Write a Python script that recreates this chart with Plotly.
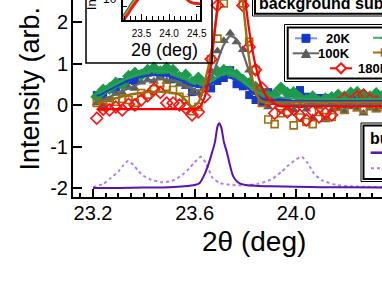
import plotly.graph_objects as go

# ---------------- data ----------------
two_theta = [23.215, 23.240, 23.265, 23.290, 23.315, 23.340, 23.365, 23.390, 23.415, 23.440,
             23.465, 23.490, 23.515, 23.540, 23.565, 23.590, 23.615, 23.640, 23.665, 23.690,
             23.715, 23.740, 23.765, 23.790, 23.815, 23.840, 23.865, 23.890, 23.915, 23.940,
             23.965, 23.990, 24.015, 24.040, 24.065, 24.090, 24.115, 24.140, 24.165, 24.190,
             24.215, 24.240, 24.265, 24.290, 24.315, 24.340]

int_20K = [0.24, 0.20, 0.38, 0.42, 0.55, 0.60, 0.58, 0.74, 0.78, 0.84,
           0.70, 0.80, 0.62, 0.68, 0.52, 0.31, 0.55, 0.45, 0.40, 0.58,
           0.65, 0.84, 0.50, 0.45, 0.24, 0.12, 0.07, 0.31, 0.15, 0.10,
           0.05, 0.29, 0.36, 0.20, 0.12, 0.17, 0.17, 0.05, 0.10, 0.02,
           0.08, 0.12, 0.04, 0.10, 0.06, 0.09]
fit_20K = [0.22, 0.29, 0.37, 0.45, 0.52, 0.59, 0.64, 0.68, 0.71, 0.72,
           0.72, 0.70, 0.66, 0.61, 0.54, 0.47, 0.43, 0.44, 0.51, 0.60,
           0.66, 0.66, 0.59, 0.48, 0.37, 0.25, 0.16, 0.12, 0.11, 0.10,
           0.10, 0.10, 0.10, 0.10, 0.10, 0.10, 0.10, 0.10, 0.10, 0.10,
           0.10, 0.10, 0.10, 0.10, 0.10, 0.10]

int_60K = [0.20, 0.36, 0.40, 0.53, 0.50, 0.69, 0.77, 0.72, 0.84, 0.89,
           0.80, 0.89, 0.84, 0.67, 0.72, 0.55, 0.65, 0.50, 0.62, 0.80,
           0.84, 0.80, 0.72, 0.60, 0.52, 0.43, 0.30, 0.22, 0.25, 0.41,
           0.29, 0.30, 0.17, 0.12, 0.20, 0.08, 0.15, 0.18, 0.24, 0.20,
           0.29, 0.31, 0.24, 0.20, 0.28, 0.22]
fit_60K = [0.27, 0.34, 0.42, 0.50, 0.58, 0.65, 0.71, 0.76, 0.80, 0.82,
           0.82, 0.80, 0.76, 0.71, 0.64, 0.57, 0.52, 0.52, 0.58, 0.67,
           0.75, 0.78, 0.72, 0.58, 0.44, 0.34, 0.27, 0.23, 0.20, 0.18,
           0.17, 0.16, 0.16, 0.15, 0.15, 0.15, 0.15, 0.15, 0.15, 0.15,
           0.15, 0.15, 0.15, 0.15, 0.15, 0.15]

int_100K = [0.05, -0.05, 0.12, 0.28, 0.30, 0.42, 0.40, 0.55, 0.60, 0.57,
            0.66, 0.58, 0.62, 0.50, 0.44, 0.30, 0.28, 0.45, 0.82, 1.30,
            1.55, 1.73, 1.52, 1.33, 0.84, 0.30, 0.10, -0.05, 0.05, 0.00,
            -0.08, -0.12, -0.02, -0.10, -0.31, -0.05, -0.36, -0.12, -0.07, -0.15,
            -0.05, -0.10, -0.20, -0.08, -0.12, -0.05]
fit_100K = [0.08, 0.13, 0.19, 0.26, 0.33, 0.40, 0.47, 0.53, 0.58, 0.61,
            0.62, 0.61, 0.58, 0.53, 0.46, 0.39, 0.35, 0.40, 0.65, 1.05,
            1.45, 1.66, 1.58, 1.25, 0.80, 0.40, 0.17, 0.07, 0.03, 0.02,
            0.01, 0.00, 0.00, 0.00, 0.00, 0.00, 0.00, 0.00, 0.00, 0.00,
            0.00, 0.00, 0.00, 0.00, 0.00, 0.00]

int_140K = [0.05, -0.05, 0.10, 0.08, 0.15, 0.12, 0.05, 0.29, 0.25, 0.38,
            0.53, 0.44, 0.36, 0.20, 0.12, -0.15, -0.05, 0.45, 1.10, 1.60,
            2.45, 4.00, 3.50, 2.45, 1.52, 0.84, 0.05, -0.35, -0.46, -0.20,
            -0.17, -0.49, -0.30, -0.41, -0.46, -0.17, -0.29, -0.29, -0.05, -0.12,
            0.05, -0.05, -0.10, 0.00, -0.08, -0.05]
fit_140K = [0.04, 0.08, 0.12, 0.16, 0.20, 0.24, 0.27, 0.29, 0.31, 0.32,
            0.32, 0.31, 0.29, 0.25, 0.12, -0.04, 0.06, 0.55, 1.25, 2.30,
            3.50, 4.20, 3.80, 2.50, 1.10, 0.30, 0.08, 0.06, 0.06, 0.06,
            0.06, 0.06, 0.06, 0.06, 0.06, 0.06, 0.06, 0.06, 0.06, 0.06,
            0.06, 0.06, 0.06, 0.06, 0.06, 0.06]

int_180K = [-0.32, -0.10, -0.12, -0.05, -0.12, 0.02, 0.00, 0.12, 0.22, 0.38,
            0.30, 0.05, 0.05, 0.00, -0.07, -0.24, -0.17, 0.20, 1.10, 2.40,
            4.00, 4.60, 4.00, 2.40, 1.40, 0.85, 0.41, 0.10, -0.20, -0.05,
            -0.17, -0.10, -0.25, -0.36, -0.15, -0.29, -0.20, -0.24, 0.05, 0.15,
            0.07, 0.20, 0.24, 0.12, 0.08, 0.05]
fit_180K = [-0.10, -0.10, -0.10, -0.10, -0.10, -0.10, -0.10, -0.10, -0.10, -0.10,
            -0.10, -0.10, -0.10, -0.10, -0.10, -0.10, -0.08, 0.20, 1.00, 2.40,
            3.80, 4.60, 4.30, 3.00, 1.80, 0.95, 0.42, 0.15, 0.03, -0.03,
            -0.03, -0.03, -0.03, -0.03, -0.03, -0.03, -0.03, -0.03, -0.03, -0.03,
            -0.03, -0.03, -0.03, -0.03, -0.03, -0.03]

bulk_x = [23.20, 23.30, 23.40, 23.50, 23.56, 23.60, 23.62, 23.64, 23.655, 23.668,
          23.68, 23.69, 23.697, 23.705, 23.715, 23.728, 23.74, 23.752, 23.77, 23.80,
          23.85, 23.90, 24.00, 24.10, 24.20, 24.34]
bulk_y = [-2.00, -2.00, -1.99, -1.98, -1.96, -1.93, -1.88, -1.66, -1.42, -1.16,
          -0.90, -0.52, -0.44, -0.54, -0.88, -1.16, -1.47, -1.72, -1.86, -1.93,
          -1.95, -1.96, -1.97, -1.98, -1.98, -1.99]

ref_x = [23.20, 23.24, 23.27, 23.30, 23.32, 23.338, 23.36, 23.38, 23.40, 23.43,
         23.47, 23.51, 23.55, 23.58, 23.60, 23.624, 23.645, 23.67, 23.70, 23.75,
         23.80, 23.85, 23.90, 23.94, 23.97, 24.00, 24.022, 24.045, 24.07, 24.10,
         24.16, 24.22, 24.34]
ref_y = [-1.98, -1.90, -1.76, -1.60, -1.45, -1.35, -1.45, -1.60, -1.71, -1.80,
         -1.86, -1.83, -1.69, -1.52, -1.38, -1.25, -1.40, -1.75, -1.88, -1.93,
         -1.93, -1.90, -1.80, -1.62, -1.45, -1.31, -1.25, -1.40, -1.65, -1.81,
         -1.93, -1.96, -1.98]

inset_x = [23.17, 23.22, 23.27, 23.32, 23.37, 23.42, 23.60, 23.75, 24.00, 24.25,
           24.32, 24.38, 24.44, 24.50, 24.56]
inset_20K = [1500, 2300, 3900, 6800, 12000, 22000, 60000, 200000, 90000, 40000, 30000, 25000, 22000, 20000, 19000]
inset_60K = [1300, 2000, 3400, 5900, 10500, 19000, 55000, 180000, 80000, 35000, 26000, 21000, 18000, 16500, 15500]
inset_100K = [1150, 1750, 2950, 5100, 9100, 16500, 50000, 170000, 70000, 30000, 20000, 16000, 14000, 13000, 12500]
inset_140K = [1000, 1500, 2550, 4400, 7900, 14300, 45000, 160000, 60000, 18000, 10500, 7800, 6900, 6500, 6300]
inset_180K = [870, 1300, 2200, 3800, 6800, 12400, 40000, 150000, 50000, 20000, 11000, 8000, 7000, 6600, 6400]

main_ticks = [-2, -1, 0, 1, 2]
main_ticktext = ["-2", "-1", "0", "1", "2"]
inset_ticks = [23.5, 24.0, 24.5]
inset_ticktext = ["23.5", "24.0", "24.5"]

# ---------------- layout helpers ----------------
W, H = 382, 293
ML, MR, MT, MB = 73, 0, 0, 96
PW = W - ML - MR
PH = H - MT - MB
FONT = "Liberation Sans, Arial, sans-serif"


def fx(p):
    return (p - ML) / PW


def fy(p):
    return (PH + MT - p) / PH


C20, C60, C100, C140, C180 = "#1538c8", "#1f9a4c", "#5c5c5c", "#a0700c", "#ff1010"

fig = go.Figure()

# markers
fig.add_trace(go.Scatter(x=two_theta, y=int_20K, mode="markers",
                         marker=dict(symbol="square", size=8, color=C20)))
fig.add_trace(go.Scatter(x=two_theta, y=int_100K, mode="markers",
                         marker=dict(symbol="triangle-up", size=9, color=C100)))
fig.add_trace(go.Scatter(x=two_theta, y=int_60K, mode="markers",
                         marker=dict(symbol="diamond", size=10, color=C60)))
fig.add_trace(go.Scatter(x=two_theta, y=int_140K, mode="markers",
                         marker=dict(symbol="square-open", size=7, color=C140, line=dict(width=1.6))))
fig.add_trace(go.Scatter(x=two_theta, y=int_180K, mode="markers",
                         marker=dict(symbol="diamond-open", size=9, color=C180, line=dict(width=1.6))))
# fits
for fy_, col, w in [(fit_100K, "#666666", 2.2), (fit_20K, "#1a3ccc", 2.2), (fit_60K, "#27a05c", 2.2),
                    (fit_140K, "#9c6c10", 2.4), (fit_180K, "#ff0000", 2.2)]:
    fig.add_trace(go.Scatter(x=two_theta, y=fy_, mode="lines",
                             line=dict(color=col, width=w, shape="spline", smoothing=0.8)))
# bulk curves
fig.add_trace(go.Scatter(x=ref_x, y=ref_y, mode="lines",
                         line=dict(color="#b07ee8", width=2, dash="dot", shape="spline", smoothing=0.6)))
fig.add_trace(go.Scatter(x=bulk_x, y=bulk_y, mode="lines",
                         line=dict(color="#5a12b0", width=2, shape="spline", smoothing=0.6)))

# inset
for arr, col in [(inset_20K, "#2050d0"), (inset_60K, "#22aa44"), (inset_100K, "#e8a020"),
                 (inset_140K, "#b07010"), (inset_180K, "#ff1010")]:
    fig.add_trace(go.Scatter(x=inset_x, y=arr, mode="lines", xaxis="x2", yaxis="y2",
                             line=dict(color=col, width=2.5)))

fig.update_layout(
    width=W, height=H,
    margin=dict(l=ML, r=MR, t=MT, b=MB, pad=0, autoexpand=False),
    paper_bgcolor="white", plot_bgcolor="white",
    showlegend=False,
    font=dict(family=FONT, color="black"),
    xaxis=dict(range=[23.2 - 20 / 254, 23.2 + 289 / 254], showline=True, linecolor="black", linewidth=2,
               automargin=False,
               ticks="inside", ticklen=8, tickwidth=2, tickcolor="black",
               tickmode="linear", tick0=23.2, dtick=0.4, tickformat=".1f",
               tickfont=dict(size=20, family=FONT), ticklabelstandoff=-3,
               minor=dict(ticks="inside", ticklen=4, tickwidth=1.5, tickcolor="black", dtick=0.05, tick0=23.2),
               showgrid=False, zeroline=False),
    yaxis=dict(range=[(105 - 197) / 41.5, 105 / 41.5], showline=True, linecolor="black", linewidth=2,
               automargin=False,
               ticks="inside", ticklen=9, tickwidth=2, tickcolor="black",
               tickmode="array", tickvals=main_ticks, ticktext=main_ticktext,
               tickfont=dict(size=20, family=FONT), ticklabelstandoff=-1,
               showgrid=False, zeroline=False),
    xaxis2=dict(domain=[fx(123), fx(200)], anchor="y2", range=[23.166, 24.559],
                automargin=False,
                showline=True, linecolor="black", linewidth=1.5,
                ticks="inside", ticklen=6, tickwidth=1, tickcolor="black",
                tickmode="array", tickvals=inset_ticks, ticktext=inset_ticktext,
                tickfont=dict(size=10, family=FONT), ticklabelstandoff=3,
                minor=dict(ticks="inside", ticklen=4, tickwidth=1, tickcolor="black", dtick=0.1, tick0=23.5),
                showgrid=False, zeroline=False),
    yaxis2=dict(domain=[fy(20), 1.0], anchor="x2", type="log", range=[3, 4],
                automargin=False,
                showline=True, linecolor="black", linewidth=1.5, mirror="ticks",
                ticks="inside", ticklen=4, tickwidth=1, tickcolor="black",
                tickvals=[5000], showticklabels=False, showgrid=False, zeroline=False),
)

shapes = []


def rect(x0, y0, x1, y1, w, fill=None):
    shapes.append(dict(type="rect", xref="paper", yref="paper",
                       x0=fx(x0), x1=fx(x1), y0=fy(y1), y1=fy(y0),
                       line=dict(color="black", width=w),
                       fillcolor=fill if fill else "rgba(0,0,0,0)", layer="above"))


def hline(x0, x1, yp, col, w=2, dash=None):
    ln = dict(color=col, width=w)
    if dash:
        ln["dash"] = dash
    shapes.append(dict(type="line", xref="paper", yref="paper",
                       x0=fx(x0), x1=fx(x1), y0=fy(yp), y1=fy(yp), line=ln, layer="above"))


def poly(pts, col, fill, w=1.5):
    path = "M " + " L ".join(f"{fx(a):.5f},{fy(b):.5f}" for a, b in pts) + " Z"
    shapes.append(dict(type="path", xref="paper", yref="paper", path=path,
                       line=dict(color=col, width=w), fillcolor=fill, layer="above"))


# inset frame
rect(86, -10, 212, 63, 1.5)
# "background subtracted" box
rect(252.5, -10, 400, 16, 1, "white")
rect(255, -10, 400, 13.8, 2)
# temperature legend box
rect(284.5, 24.5, 400, 81.5, 1, "white")
rect(287.7, 27.5, 400, 78.5, 2)
# bulk legend box
rect(361, 123, 400, 181.5, 1, "white")
rect(363.5, 125.5, 400, 179, 2)

# legend keys
hline(295, 317, 38.3, "#7b96e4")
poly([(302, 34.3), (310, 34.3), (310, 42.3), (302, 42.3)], C20, C20, 1)
hline(292.7, 319.3, 53.3, "#666666")
poly([(301.5, 57.5), (310.5, 57.5), (306, 49.2)], C100, C100, 1)
hline(330, 352, 68.3, "#ff0000")
poly([(341, 63.3), (346, 68.3), (341, 73.3), (336, 68.3)], C180, "white", 2)
hline(373, 390, 37.8, "#3db07a")
poly([(386, 33), (391, 37.8), (386, 42.6), (381, 37.8)], C60, C60, 1)
hline(373, 390, 52.5, "#a0700c")
poly([(381.5, 49), (388.5, 49), (388.5, 56), (381.5, 56)], C140, "white", 1.6)
hline(370.7, 395, 152.7, "#5a12b0", 2.5)
hline(371, 395, 168.3, "#b07ee8", 2, "dot")

fig.update_layout(shapes=shapes)

ann = []


def text(t, xp, yp, size, xa="center", ya="middle", bold=False, angle=0):
    ann.append(dict(text=f"<b>{t}</b>" if bold else t, x=fx(xp), y=fy(yp), xref="paper", yref="paper",
                    xanchor=xa, yanchor=ya, showarrow=False, textangle=angle,
                    font=dict(size=size, family=FONT, color="black")))


text("Intensity (arb. units)", 29, 173, 27, "center", "bottom", angle=-90)
text("2θ (deg)", 254, 241, 28)
text("background subtracted", 257, 4, 16, "left", "middle", bold=True)
text("20K", 352, 38.3, 13, "right", bold=True)
text("100K", 352, 53.3, 13, "right", bold=True)
text("180K", 356, 68.3, 13, "left", bold=True)
text("bulk calc.", 368, 138, 16, "left", bold=True)
# inset texts
text("2θ (deg)", 164, 50, 18)
text("10", 110, -1, 12)
text("Intensity", 91, 12.7, 13, "center", "bottom", angle=-90)

fig.update_layout(annotations=ann)

fig.write_html("out.html", config={"displayModeBar": False},
               post_script="document.body.style.margin='0';document.body.style.padding='0';")
